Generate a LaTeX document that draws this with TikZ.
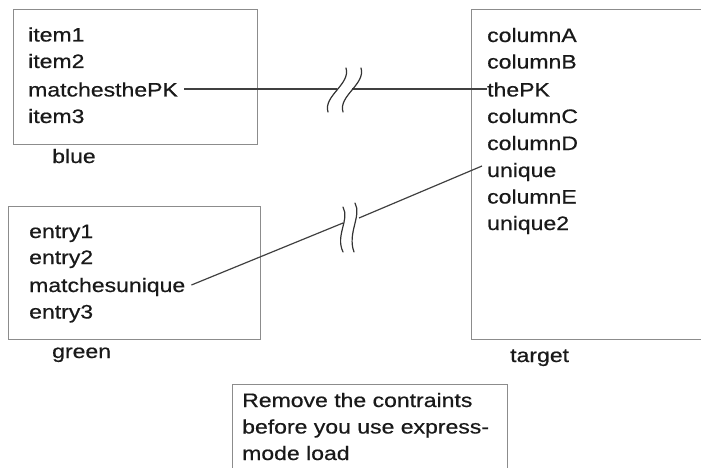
\documentclass[tikz,border=0pt]{standalone}
\usepackage{fontspec}
\setmainfont{Liberation Sans}[FakeStretch=1.18,FakeBold=0.6]
\begin{document}
\begin{tikzpicture}[x=1pt,y=-1pt,
  frame/.style={draw=black!45, line width=1.3pt, anchor=north west, inner sep=0pt},
  txt/.style={anchor=base west, inner sep=0pt, font=\fontsize{19.5}{23}\selectfont, text=black!90},
  link/.style={draw=black!75, line width=1.2pt},
  brk/.style={draw=black!80, line width=1.2pt, line cap=round}]
\useasboundingbox (0,0) rectangle (701,468);
\clip (0,0) rectangle (701,468);
% boxes
\node[frame, minimum width=244pt, minimum height=135pt] (bluebox) at (13,9) {};
\node[frame, minimum width=252pt, minimum height=133pt] (greenbox) at (8,206) {};
\node[frame, minimum width=260pt, minimum height=330pt] (targetbox) at (471,9) {};
\node[frame, minimum width=275pt, minimum height=100pt] (notebox) at (232,384) {};
% blue
\node[txt] (b1) at (28,41.5) {item1};
\node[txt] (b2) at (28,68) {item2};
\node[txt] (bpk) at (28,96.5) {matchesthePK};
\node[txt] (b3) at (28,123) {item3};
\node[txt] (bl) at (52,163) {blue};
% green
\node[txt] (g1) at (29,238) {entry1};
\node[txt] (g2) at (29,264) {entry2};
\node[txt] (gu) at (29,292) {matchesunique};
\node[txt] (g3) at (29,318.5) {entry3};
\node[txt] (gl) at (52,358) {green};
% target
\node[txt] (tA) at (487,42) {columnA};
\node[txt] (tB) at (487,68.5) {columnB};
\node[txt] (tpk) at (487,96.5) {thePK};
\node[txt] (tC) at (487,123) {columnC};
\node[txt] (tD) at (487,150) {columnD};
\node[txt] (tu) at (487,177) {unique};
\node[txt] (tE) at (487,203.5) {columnE};
\node[txt] (tu2) at (487,230) {unique2};
\node[txt] (tl) at (510,362) {target};
% note
\node[txt] (n1) at (242,407) {Remove the contraints};
\node[txt] (n2) at (242,433.5) {before you use express-};
\node[txt] (n3) at (242,460) {mode load};
% connector 1
\coordinate (c1a) at (337,89);
\coordinate (c1b) at (352,89);
\draw[link] ([xshift=6pt,yshift=7.5pt]bpk.base east) -- (c1a);
\draw[link] (c1b) -- ([yshift=7.5pt]tpk.base west);
\draw[brk] (328,112) .. controls (323,96) and (351,84) .. (346,68);
\draw[brk] (343,112) .. controls (338,96) and (366,84) .. (361,68);
% connector 2
\coordinate (c2a) at (343,223);
\coordinate (c2b) at (359,218);
\draw[link] ([xshift=6pt,yshift=7pt]gu.base east) -- (c2a);
\draw[link] (c2b) -- ([xshift=-5pt,yshift=11pt]tu.base west);
\draw[brk] (343,207) .. controls (350,220) and (335,235) .. (343,252);
\draw[brk] (355,203) .. controls (362,216) and (347,233) .. (354,252);
\end{tikzpicture}
\end{document}
